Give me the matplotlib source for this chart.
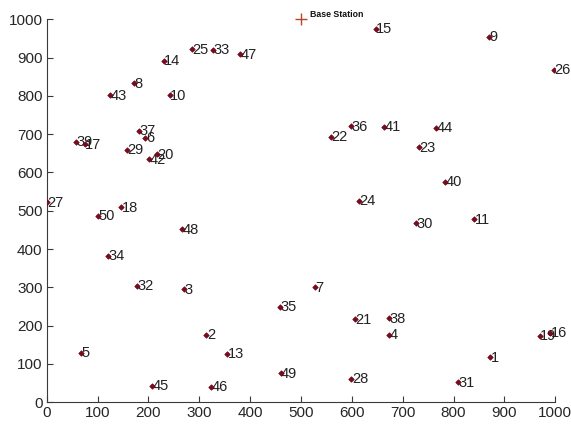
import matplotlib
matplotlib.use("Agg")
import matplotlib.pyplot as plt

# Sensor node coordinates and their IDs
node_ids = [25, 33, 47, 14, 8, 43, 10, 37, 6, 39, 17, 29, 42, 20, 27, 18, 50,
            15, 9, 26, 36, 41, 44, 22, 23, 40, 24,
            48, 34, 32, 3, 35, 2, 13, 5, 49, 45, 46,
            30, 11, 7, 21, 38, 4, 1, 19, 16, 28, 31]
node_x = [286, 327, 381, 230, 171, 124, 242, 182, 194, 58, 75, 158, 202, 216, 0, 147, 100,
          647, 869, 997, 599, 663, 766, 558, 732, 784, 614,
          266, 120, 177, 270, 458, 314, 355, 67, 460, 207, 323,
          727, 841, 527, 606, 674, 674, 872, 969, 990, 599, 809]
node_y = [922, 920, 909, 891, 833, 802, 802, 709, 691, 680, 674, 659, 635, 647, 522, 509, 487,
          975, 955, 868, 721, 719, 716, 693, 666, 575, 526,
          452, 382, 304, 295, 250, 176, 126, 130, 76, 43, 41,
          467, 478, 300, 217, 219, 176, 117, 173, 182, 61, 52]

base_x, base_y = 500, 1000
base_label = "Base Station"

x_ticks = [0, 100, 200, 300, 400, 500, 600, 700, 800, 900, 1000]
y_ticks = [0, 100, 200, 300, 400, 500, 600, 700, 800, 900, 1000]

plt.rcParams['font.family'] = ['Liberation Sans', 'DejaVu Sans']
narrow = ['Liberation Sans Narrow', 'Liberation Sans', 'DejaVu Sans']

fig = plt.figure(figsize=(5.71, 4.24), dpi=100)
ax = fig.add_axes([0.0818, 0.0512, 0.8907, 0.9033])

ax.plot(node_x, node_y, linestyle='none', marker='D', markersize=2.8,
        color='#7a0b1e', markeredgecolor='#6a0515', markeredgewidth=0.5, zorder=3)
for nid, x, y in zip(node_ids, node_x, node_y):
    ax.annotate(str(nid), (x, y), xytext=(0.3, -0.3), textcoords='offset points',
                ha='left', va='center', fontsize=10.5, color='#222222',
                family=narrow, zorder=2)

ax.plot([base_x], [base_y], linestyle='none', marker='+', markersize=9,
        markeredgewidth=1.0, color='#b8452a', clip_on=False, zorder=3)
ax.text(base_x + 17, base_y + 1, base_label, ha='left', va='bottom',
        fontsize=6.3, fontweight='bold', color='#111111', family=narrow)

ax.set_xlim(0, 1000)
ax.set_ylim(0, 1000)
ax.set_xticks(x_ticks)
ax.set_yticks(y_ticks)
ax.spines['top'].set_visible(False)
ax.spines['right'].set_visible(False)
for s in ('left', 'bottom'):
    ax.spines[s].set_color('#3a3a3a')
    ax.spines[s].set_linewidth(0.8)
ax.tick_params(direction='in', length=4, width=0.8, color='#3a3a3a',
               labelsize=11, labelcolor='#262626', pad=3)

fig.savefig("out.png", dpi=100, facecolor='white')
